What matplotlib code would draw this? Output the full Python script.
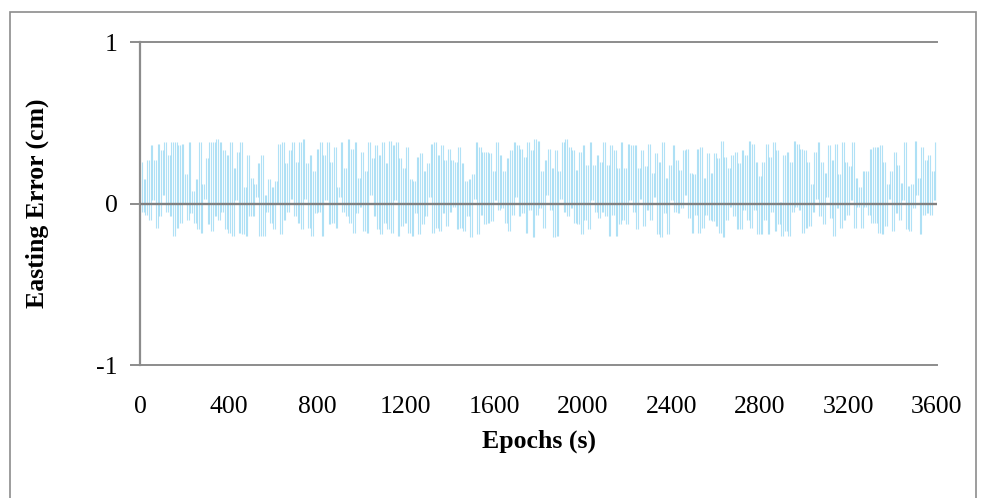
import numpy as np
import matplotlib
matplotlib.use("Agg")
import matplotlib.pyplot as plt
from matplotlib.patches import Rectangle

# ---- data ----
seg1 = [0.26,-0.05,0.15,-0.07,0.27,-0.10,0.36,0.02,0.27,-0.15,0.37,-0.08,0.33,0.05,0.38,-0.05,0.30,-0.08,0.38,-0.20,
        0.38,-0.15,0.36,-0.12,0.37,0.00,0.18,-0.10,0.38,-0.06,0.08,-0.12,0.15,-0.16,0.38,-0.18,0.12,0.03,0.28,-0.13,
        0.38,-0.17,0.38,-0.08,0.40,-0.10,0.38,-0.05,0.33,-0.16,0.30,-0.18,0.38,-0.20,0.22,0.02,0.32,-0.18,0.38,-0.19,
        0.10,-0.20,0.30,-0.08,0.16,-0.08,0.12,0.04,0.25,-0.20,0.30,-0.20,0.05,-0.05,0.15,-0.12,0.10,-0.16,0.14,0.00,
        0.37,-0.19,0.38,-0.10,0.25,-0.05,0.33,0.03]
seg2 = [0.38,-0.08,0.26,-0.12,0.38,-0.16,0.40,0.03,0.25,-0.15,0.30,-0.20,0.20,-0.06,0.34,-0.05,0.38,-0.20,0.30,0.02,
        0.38,-0.13,0.26,-0.12,0.35,-0.15,0.10,0.04,0.38,-0.05,0.22,-0.08,0.40,-0.12,0.34,-0.18,0.38,-0.06,0.16,-0.02,
        0.32,-0.17,0.20,-0.18,0.38,0.05,0.28,-0.08,0.36,-0.16,0.30,-0.19,0.38,-0.12,0.25,-0.16,0.39,-0.18,0.36,0.02,
        0.38,-0.20,0.28,-0.14,0.22,-0.12,0.35,-0.18,0.15,-0.20,0.14,-0.06,0.29,-0.19,0.31,-0.13,0.20,-0.08,0.25,0.04,
        0.37,-0.18,0.38,-0.15,0.30,-0.17,0.36,-0.06]
seg3 = [0.27,-0.14,0.34,-0.05,0.27,-0.02,0.26,-0.16,0.35,-0.15,0.25,-0.17,0.14,-0.08,0.15,-0.21,0.18,0.03,0.38,-0.19,
        0.35,-0.07,0.32,-0.13,0.32,-0.12,0.31,-0.11,0.20,0.02,0.38,-0.04,0.30,-0.03,0.20,-0.12,0.28,-0.17,0.33,-0.07,
        0.38,0.04,0.36,-0.08,0.34,-0.06,0.29,-0.18,0.38,-0.04,0.33,-0.21,0.40,-0.07,0.39,-0.03,0.20,-0.15,0.27,0.05,
        0.34,-0.04,0.22,-0.21,0.33,-0.20,0.20,0.03,0.38,-0.05,0.40,-0.08,0.35,-0.03,0.33,-0.12,0.21,-0.13,0.32,-0.19,
        0.36,-0.10,0.24,-0.16,0.38,0.02,0.24,-0.05,0.30,-0.09]
seg4 = [0.26,-0.05,0.38,-0.08,0.24,-0.20,0.36,-0.07,0.33,-0.20,0.22,-0.13,0.38,-0.10,0.22,-0.13,0.37,0.02,0.36,-0.05,
        0.36,-0.16,0.22,0.03,0.33,-0.14,0.23,-0.04,0.37,-0.10,0.19,0.04,0.31,-0.19,0.26,-0.21,0.38,-0.06,0.16,-0.19,
        0.24,0.02,0.36,-0.05,0.27,-0.06,0.21,-0.03,0.33,0.05,0.34,-0.09,0.19,-0.18,0.18,-0.07,0.34,-0.18,0.35,-0.15,
        0.16,-0.07,0.31,-0.10,0.19,-0.11,0.31,-0.14,0.28,-0.18,0.39,-0.21,0.29,-0.10,0.22,-0.02,0.30,-0.08,0.32,-0.16,
        0.25,-0.16,0.33,-0.04,0.30,-0.10,0.39,-0.15,0.37,-0.04,0.26,-0.19,0.17,-0.19]
seg5 = [0.26,-0.10,0.37,-0.19,0.29,-0.05,0.38,-0.17,0.33,-0.13,0.01,-0.20,0.30,-0.17,0.32,-0.20,0.26,-0.05,0.39,-0.02,
        0.37,-0.04,0.34,-0.18,0.33,-0.15,0.26,-0.14,0.12,-0.05,0.32,0.03,0.38,-0.08,0.26,-0.13,0.19,0.04,0.36,-0.09,
        0.27,-0.20,0.37,-0.03,0.18,-0.15,0.38,-0.10,0.26,-0.07,0.23,0.02,0.38,-0.15,0.16,-0.02,0.10,-0.15,0.20,-0.02,
        0.20,-0.07,0.34,-0.12,0.35,-0.12,0.35,-0.18,0.36,-0.19,0.26,-0.14,0.12,0.03,0.20,-0.17,0.32,-0.06,0.24,-0.10,
        0.13,0.02,0.38,-0.16,0.11,-0.17,0.12,-0.03,0.39,0.05,0.16,-0.19,0.35,-0.07,0.27,-0.06,0.30,-0.07,0.20,0.02,
        0.38,-0.01]
easting_error = seg1 + seg2 + seg3 + seg4 + seg5
epoch_start, epoch_end = 1, 3600
x_ticks = [0, 400, 800, 1200, 1600, 2000, 2400, 2800, 3200, 3600]
y_ticks = [-1, 0, 1]

epochs = np.linspace(epoch_start, epoch_end, len(easting_error))
vals = np.asarray(easting_error)

# ---- figure ----
W, H = 986, 498
fig = plt.figure(figsize=(W / 100, H / 100), dpi=100)
plt.rcParams['font.family'] = ['Liberation Serif', 'DejaVu Serif']

# outer chart border
fig.patches.append(Rectangle((10 / W, -0.05), (976 - 10) / W, 1.05 - 12 / H,
                             transform=fig.transFigure, fill=False,
                             edgecolor='#8c8c8c', linewidth=1.2))

ax = fig.add_axes([140 / W, 1 - 365 / H, (937 - 140) / W, (365 - 42) / H])
# each step of the dense epoch series is drawn as a near-vertical hairline
lo = np.minimum(vals[:-1], vals[1:])
hi = np.maximum(vals[:-1], vals[1:])
ax.vlines(epochs[1:], lo, hi, color='#45B8EA', alpha=0.42, linewidth=0.8, zorder=2)

ax.set_xlim(0, 3600)
ax.set_ylim(-1, 1)
ax.set_xticks(x_ticks)
ax.set_yticks(y_ticks)
ax.set_xticklabels([str(t) for t in x_ticks])
ax.set_yticklabels([str(t) for t in y_ticks])

for s in ['top', 'right', 'bottom']:
    ax.spines[s].set_visible(False)
ax.spines['left'].set_color('#8c8c8c')
ax.spines['left'].set_linewidth(1.6)

for yv in (-1, 1):
    ax.axhline(yv, color='#8c8c8c', linewidth=1.4, zorder=1, clip_on=False)
ax.axhline(0, color='#808080', linewidth=1.7, zorder=3)

ax.tick_params(axis='y', length=7, width=1.4, color='#8c8c8c', pad=9,
               labelsize=18.5, direction='out')
ax.tick_params(axis='x', length=0, pad=22, labelsize=18.5)

ax.set_xlabel('Epochs (s)', fontsize=18.5, fontweight='bold', labelpad=9)
ax.set_ylabel('Easting Error (cm)', fontsize=18.5, fontweight='bold', labelpad=34)

fig.savefig('out.png', dpi=100)
